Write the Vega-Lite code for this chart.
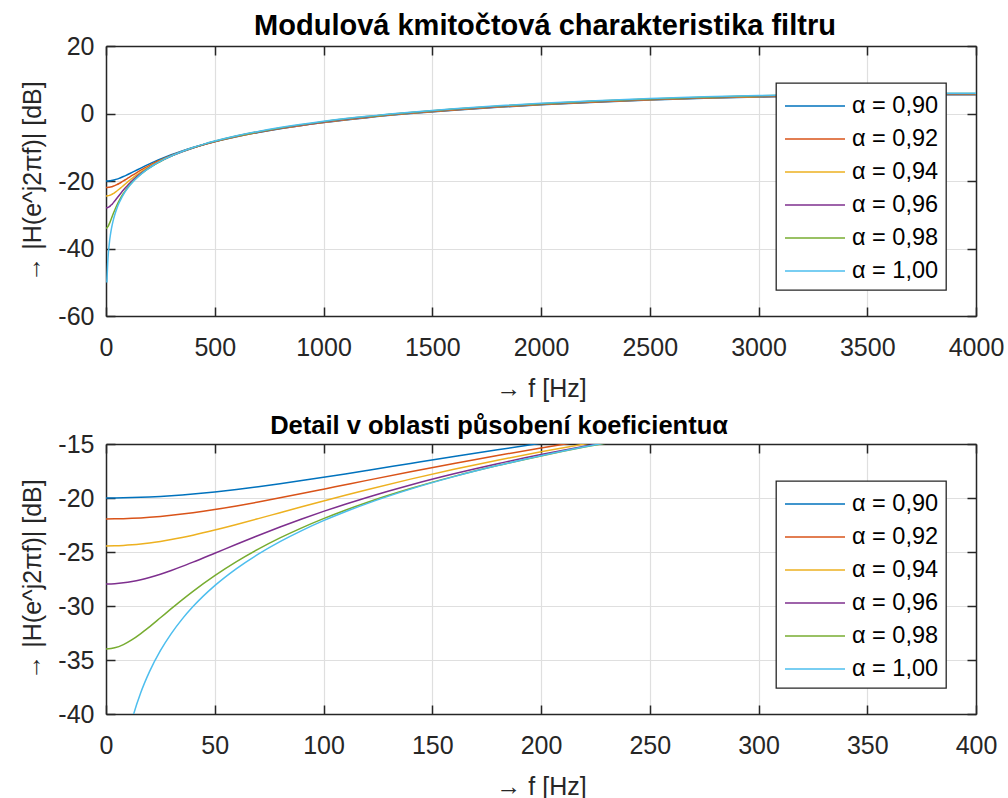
{
  "$schema": "https://vega.github.io/schema/vega-lite/v6.json",
  "padding": {"left": 20, "top": 12, "right": 0, "bottom": 0},
  "datasets": {
    "H": [
      {"f": 0, "0,90": -20.0, "0,92": -21.938, "0,94": -24.437, "0,96": -27.959, "0,98": -33.979},
      {"f": 4, "0,90": -19.996, "0,92": -21.932, "0,94": -24.426, "0,96": -27.933, "0,98": -33.875, "1,00": -50.057},
      {"f": 8, "0,90": -19.985, "0,92": -21.913, "0,94": -24.392, "0,96": -27.857, "0,98": -33.578, "1,00": -44.036},
      {"f": 12, "0,90": -19.965, "0,92": -21.883, "0,94": -24.337, "0,96": -27.734, "0,98": -33.124, "1,00": -40.515},
      {"f": 16, "0,90": -19.939, "0,92": -21.841, "0,94": -24.262, "0,96": -27.566, "0,98": -32.559, "1,00": -38.016},
      {"f": 20, "0,90": -19.905, "0,92": -21.787, "0,94": -24.166, "0,96": -27.359, "0,98": -31.926, "1,00": -36.078},
      {"f": 25, "0,90": -19.852, "0,92": -21.704, "0,94": -24.02, "0,96": -27.055, "0,98": -31.091, "1,00": -34.139},
      {"f": 30, "0,90": -19.788, "0,92": -21.605, "0,94": -23.849, "0,96": -26.71, "0,98": -30.25, "1,00": -32.556},
      {"f": 35, "0,90": -19.714, "0,92": -21.49, "0,94": -23.655, "0,96": -26.335, "0,98": -29.429, "1,00": -31.217},
      {"f": 40, "0,90": -19.63, "0,92": -21.362, "0,94": -23.441, "0,96": -25.939, "0,98": -28.642, "1,00": -30.057},
      {"f": 50, "0,90": -19.436, "0,92": -21.069, "0,94": -22.968, "0,96": -25.114, "0,98": -27.187, "1,00": -28.119},
      {"f": 60, "0,90": -19.209, "0,92": -20.735, "0,94": -22.451, "0,96": -24.281, "0,98": -25.891, "1,00": -26.536},
      {"f": 70, "0,90": -18.955, "0,92": -20.372, "0,94": -21.911, "0,96": -23.467, "0,98": -24.735, "1,00": -25.197},
      {"f": 80, "0,90": -18.68, "0,92": -19.987, "0,94": -21.361, "0,96": -22.685, "0,98": -23.698, "1,00": -24.038},
      {"f": 90, "0,90": -18.388, "0,92": -19.588, "0,94": -20.812, "0,96": -21.942, "0,98": -22.762, "1,00": -23.015},
      {"f": 100, "0,90": -18.083, "0,92": -19.182, "0,94": -20.271, "0,96": -21.239, "0,98": -21.91, "1,00": -22.1},
      {"f": 110, "0,90": -17.769, "0,92": -18.774, "0,94": -19.742, "0,96": -20.575, "0,98": -21.129, "1,00": -21.273},
      {"f": 120, "0,90": -17.45, "0,92": -18.367, "0,94": -19.229, "0,96": -19.948, "0,98": -20.41, "1,00": -20.518},
      {"f": 140, "0,90": -16.805, "0,92": -17.567, "0,94": -18.253, "0,96": -18.796, "0,98": -19.123, "1,00": -19.18},
      {"f": 160, "0,90": -16.163, "0,92": -16.797, "0,94": -17.346, "0,96": -17.763, "0,98": -17.998, "1,00": -18.022},
      {"f": 180, "0,90": -15.535, "0,92": -16.063, "0,94": -16.506, "0,96": -16.829, "0,98": -16.998, "1,00": -17.0},
      {"f": 200, "0,90": -14.927, "0,92": -15.368, "0,94": -15.727, "0,96": -15.979, "0,98": -16.103, "1,00": -16.087},
      {"f": 220, "0,90": -14.341, "0,92": -14.711, "0,94": -15.004, "0,96": -15.201, "0,98": -15.289, "1,00": -15.261},
      {"f": 240, "0,90": -13.78, "0,92": -14.09, "0,94": -14.33, "0,96": -14.484, "0,98": -14.545, "1,00": -14.507},
      {"f": 260, "0,90": -13.242, "0,92": -13.504, "0,94": -13.7, "0,96": -13.82, "0,98": -13.859, "1,00": -13.814},
      {"f": 280, "0,90": -12.729, "0,92": -12.949, "0,94": -13.109, "0,96": -13.202, "0,98": -13.224, "1,00": -13.173},
      {"f": 300, "0,90": -12.238, "0,92": -12.423, "0,94": -12.554, "0,96": -12.624, "0,98": -12.632, "1,00": -12.576},
      {"f": 350, "0,90": -11.103, "0,92": -11.222, "0,94": -11.297, "0,96": -11.326, "0,98": -11.308, "1,00": -11.244},
      {"f": 400, "0,90": -10.083, "0,92": -10.157, "0,94": -10.195, "0,96": -10.197, "0,98": -10.162, "1,00": -10.093},
      {"f": 450, "0,90": -9.163, "0,92": -9.204, "0,94": -9.215, "0,96": -9.198, "0,98": -9.153, "1,00": -9.079},
      {"f": 500, "0,90": -8.326, "0,92": -8.343, "0,94": -8.336, "0,96": -8.305, "0,98": -8.251, "1,00": -8.175},
      {"f": 600, "0,90": -6.857, "0,92": -6.841, "0,94": -6.809, "0,96": -6.76, "0,98": -6.695, "1,00": -6.616},
      {"f": 700, "0,90": -5.603, "0,92": -5.567, "0,94": -5.519, "0,96": -5.459, "0,98": -5.388, "1,00": -5.306},
      {"f": 800, "0,90": -4.513, "0,92": -4.463, "0,94": -4.405, "0,96": -4.338, "0,98": -4.263, "1,00": -4.18},
      {"f": 1000, "0,90": -2.699, "0,92": -2.633, "0,94": -2.563, "0,96": -2.488, "0,98": -2.407, "1,00": -2.323},
      {"f": 1200, "0,90": -1.238, "0,92": -1.164, "0,94": -1.087, "0,96": -1.007, "0,98": -0.924, "1,00": -0.838},
      {"f": 1400, "0,90": -0.031, "0,92": 0.048, "0,94": 0.129, "0,96": 0.212, "0,98": 0.296, "1,00": 0.382},
      {"f": 1600, "0,90": 0.982, "0,92": 1.065, "0,94": 1.148, "0,96": 1.233, "0,98": 1.319, "1,00": 1.405},
      {"f": 1800, "0,90": 1.842, "0,92": 1.927, "0,94": 2.013, "0,96": 2.098, "0,98": 2.185, "1,00": 2.271},
      {"f": 2000, "0,90": 2.577, "0,92": 2.663, "0,94": 2.75, "0,96": 2.837, "0,98": 2.923, "1,00": 3.01},
      {"f": 2250, "0,90": 3.347, "0,92": 3.435, "0,94": 3.523, "0,96": 3.61, "0,98": 3.697, "1,00": 3.784},
      {"f": 2500, "0,90": 3.977, "0,92": 4.066, "0,94": 4.155, "0,96": 4.243, "0,98": 4.33, "1,00": 4.418},
      {"f": 2750, "0,90": 4.487, "0,92": 4.577, "0,94": 4.666, "0,96": 4.754, "0,98": 4.842, "1,00": 4.929},
      {"f": 3000, "0,90": 4.889, "0,92": 4.98, "0,94": 5.069, "0,96": 5.158, "0,98": 5.246, "1,00": 5.333},
      {"f": 3250, "0,90": 5.194, "0,92": 5.284, "0,94": 5.374, "0,96": 5.463, "0,98": 5.551, "1,00": 5.638},
      {"f": 3500, "0,90": 5.407, "0,92": 5.498, "0,94": 5.588, "0,96": 5.677, "0,98": 5.765, "1,00": 5.852},
      {"f": 3750, "0,90": 5.533, "0,92": 5.624, "0,94": 5.714, "0,96": 5.803, "0,98": 5.891, "1,00": 5.979},
      {"f": 4000, "0,90": 5.575, "0,92": 5.666, "0,94": 5.756, "0,96": 5.845, "0,98": 5.934, "1,00": 6.021}
    ]
  },
  "vconcat": [
    {
      "width": 870,
      "height": 270,
      "data": {"name": "H"},
      "title": {"text": "Modulová kmitočtová charakteristika filtru", "offset": -7, "fontSize": 29, "dx": 4},
      "transform": [
        {"fold": ["0,90", "0,92", "0,94", "0,96", "0,98", "1,00"], "as": ["alpha", "dB"]},
        {"filter": "isValid(datum.dB)"}
      ],
      "layer": [
        {
          "mark": {"type": "line", "strokeWidth": 1.5, "clip": true, "interpolate": "monotone"},
          "encoding": {
            "x": {"field": "f", "type": "quantitative", "scale": {"domain": [0, 4000], "nice": false, "zero": false},
                  "axis": {"title": "→ f [Hz]", "values": [0, 500, 1000, 1500, 2000, 2500, 3000, 3500, 4000], "labelExpr": "'' + datum.value", "labelFlush": false, "labelPadding": 28.5, "titlePadding": 15.5}},
            "y": {"field": "dB", "type": "quantitative", "scale": {"domain": [-60, 20], "nice": false, "zero": false},
                  "axis": {"title": "→ |H(e^j2πf)| [dB]", "values": [-60, -40, -20, 0, 20], "labelExpr": "'' + datum.value", "labelFlush": false, "labelPadding": 21, "titlePadding": 12}},
            "color": {"field": "alpha", "type": "nominal",
                      "scale": {"domain": ["0,90", "0,92", "0,94", "0,96", "0,98", "1,00"],
                                "range": ["#0072BD", "#D95319", "#EDB120", "#7E2F8E", "#77AC30", "#4DBEEE"]},
                      "legend": {"labelExpr": "'α = ' + datum.label"}}
          }
        },
        {
          "mark": {"type": "line", "opacity": 0, "clip": true},
          "encoding": {
            "x": {"field": "f", "type": "quantitative",
                  "axis": {"orient": "top", "labels": false, "title": null, "grid": false, "values": [0, 500, 1000, 1500, 2000, 2500, 3000, 3500, 4000]}},
            "y": {"field": "dB", "type": "quantitative",
                  "axis": {"orient": "right", "labels": false, "title": null, "grid": false, "values": [-60, -40, -20, 0, 20]}}
          }
        }
      ],
      "resolve": {"axis": {"x": "independent", "y": "independent"}}
    },
    {
      "width": 870,
      "height": 270,
      "data": {"name": "H"},
      "title": {"text": "Detail v oblasti působení koeficientuα", "offset": -7, "fontSize": 25.5, "dx": -42},
      "transform": [
        {"fold": ["0,90", "0,92", "0,94", "0,96", "0,98", "1,00"], "as": ["alpha", "dB"]},
        {"filter": "isValid(datum.dB)"}
      ],
      "layer": [
        {
          "mark": {"type": "line", "strokeWidth": 1.5, "clip": true, "interpolate": "monotone"},
          "encoding": {
            "x": {"field": "f", "type": "quantitative", "scale": {"domain": [0, 400], "nice": false, "zero": false},
                  "axis": {"title": "→ f [Hz]", "values": [0, 50, 100, 150, 200, 250, 300, 350, 400], "labelExpr": "'' + datum.value", "labelFlush": false, "labelPadding": 28.5, "titlePadding": 15.5}},
            "y": {"field": "dB", "type": "quantitative", "scale": {"domain": [-40, -15], "nice": false, "zero": false},
                  "axis": {"title": "→ |H(e^j2πf)| [dB]", "values": [-40, -35, -30, -25, -20, -15], "labelExpr": "'' + datum.value", "labelFlush": false, "labelPadding": 21, "titlePadding": 12}},
            "color": {"field": "alpha", "type": "nominal",
                      "scale": {"domain": ["0,90", "0,92", "0,94", "0,96", "0,98", "1,00"],
                                "range": ["#0072BD", "#D95319", "#EDB120", "#7E2F8E", "#77AC30", "#4DBEEE"]},
                      "legend": {"labelExpr": "'α = ' + datum.label"}}
          }
        },
        {
          "mark": {"type": "line", "opacity": 0, "clip": true},
          "encoding": {
            "x": {"field": "f", "type": "quantitative",
                  "axis": {"orient": "top", "labels": false, "title": null, "grid": false, "values": [0, 50, 100, 150, 200, 250, 300, 350, 400]}},
            "y": {"field": "dB", "type": "quantitative",
                  "axis": {"orient": "right", "labels": false, "title": null, "grid": false, "values": [-40, -35, -30, -25, -20, -15]}}
          }
        }
      ],
      "resolve": {"axis": {"x": "independent", "y": "independent"}}
    }
  ],
  "spacing": 12,
  "resolve": {"legend": {"color": "independent"}},
  "config": {
    "font": "Liberation Sans",
    "view": {"stroke": null},
    "axis": {
      "labelFont": "Liberation Sans", "labelFontSize": 25, "labelColor": "#262626",
      "titleFont": "Liberation Sans", "titleFontSize": 25, "titleFontWeight": "normal", "titleColor": "#262626",
      "domainColor": "#262626", "domainWidth": 1.5,
      "tickColor": "#262626", "tickWidth": 1.5, "tickSize": -9,
      "gridColor": "#DFDFDF", "gridWidth": 1.2
    },
    "legend": {
      "orient": "none", "legendX": 670, "legendY": 37, "title": null,
      "symbolType": "M-2,0H2", "symbolSize": 900, "symbolStrokeWidth": 1.5, "symbolOffset": 16,
      "labelFont": "Liberation Sans", "labelFontSize": 23.5, "labelColor": "#000000", "labelOffset": 21,
      "fillColor": "#FFFFFF", "strokeColor": "#262626", "strokeWidth": 1.3, "cornerRadius": 0,
      "padding": 7, "rowPadding": 5
    },
    "title": {"font": "Liberation Sans", "fontSize": 27, "fontWeight": "bold", "color": "#000000"}
  }
}
